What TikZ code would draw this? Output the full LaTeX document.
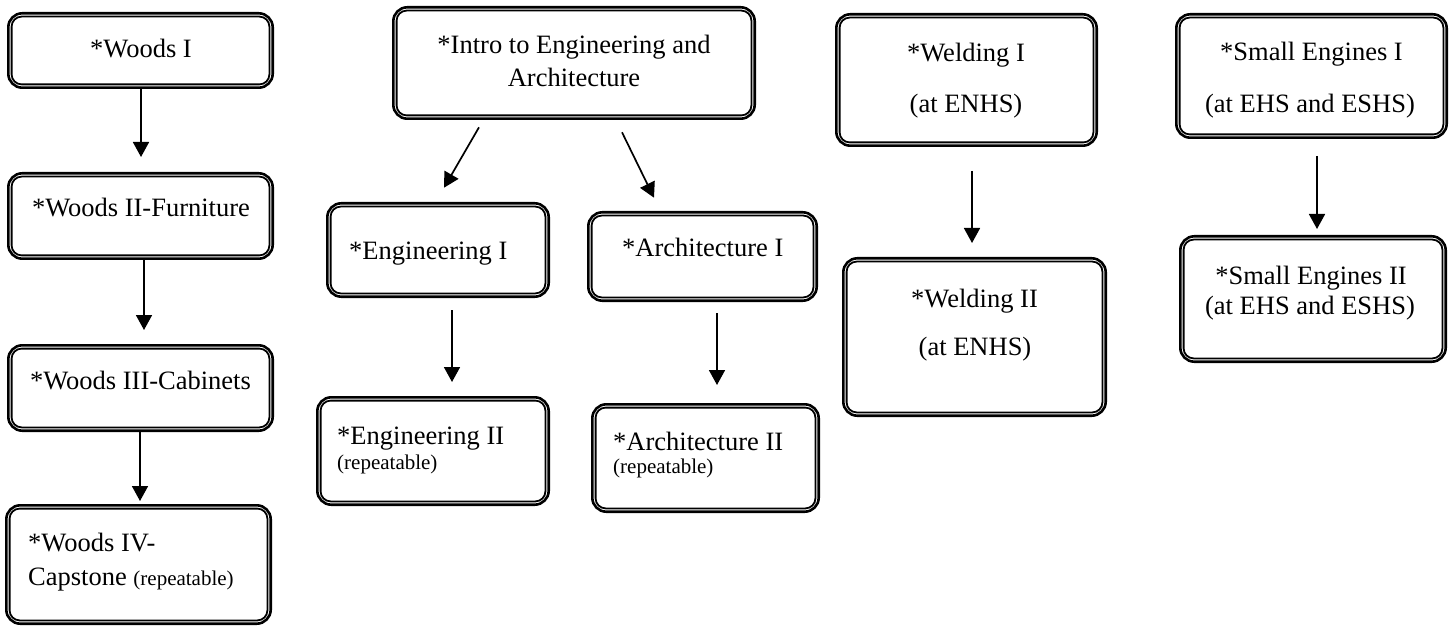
\documentclass[tikz,border=0pt]{standalone}
\usepackage{fontspec}
\setmainfont{Liberation Serif}
\usetikzlibrary{arrows.meta}
\tikzset{
  outerbox/.style={draw, line width=2.6pt, rounded corners=14pt, inner sep=0pt},
  innerline/.style={draw, line width=1.8pt, rounded corners=10pt},
  lbl/.style={inner sep=0pt, anchor=base, font=\fontsize{26.5}{31}\selectfont},
  lblw/.style={lbl, anchor=base west},
  arr/.style={line width=1.7pt, -{Triangle[width=16pt,length=15pt]}},
}
\newcommand{\repfont}{\fontsize{21}{24}\selectfont}
\newcommand{\dbox}[5]{%
  \pgfmathsetmacro{\bw}{#4-#2-2.6}\pgfmathsetmacro{\bh}{#5-#3-2.6}%
  \node[outerbox, minimum width=\bw pt, minimum height=\bh pt] (#1) at ({(#2+#4)/2},{(#3+#5)/2}) {};
  \draw[innerline] ([shift={(4.6,4.6)}]#1.north west) rectangle ([shift={(-4.6,-4.6)}]#1.south east);
}
\begin{document}
\begin{tikzpicture}[x=1pt,y=-1pt]
\fill[white] (0,0) rectangle (1453,628);
\useasboundingbox (0,0) rectangle (1453,628);

% Woods column
\dbox{woodsA}{7}{12}{274}{89}
\dbox{woodsB}{7}{172}{274}{260}
\dbox{woodsC}{7}{344}{274}{432}
\dbox{woodsD}{5}{504}{272}{625}
\node[lbl] (tWA) at (141,58) {*Woods I};
\node[lbl] (tWB) at (141,217) {*Woods II-Furniture};
\node[lbl] (tWC) at (140.5,389) {*Woods III-Cabinets};
\node[lblw] (tWD1) at (28,551) {*Woods IV-};
\node[lblw] (tWD2) at (28,585) {Capstone {\repfont (repeatable)}};

% Engineering / Architecture
\dbox{intro}{392}{6}{756}{120}
\dbox{engA}{326}{202}{550}{298}
\dbox{archA}{587}{211}{818}{302}
\dbox{engB}{316}{396}{550}{506}
\dbox{archB}{591}{403}{820}{513}
\node[lbl] (tI1) at (574,54) {*Intro to Engineering and};
\node[lbl] (tI2) at (574,87) {Architecture};
\node[lblw] (tEA) at (349,260) {*Engineering I};
\node[lblw] (tAA) at (622,257) {*Architecture I};
\node[lblw] (tEB1) at (337,444) {*Engineering II};
\node[lblw, font=\repfont] (tEB2) at (337,469) {(repeatable)};
\node[lblw] (tAB1) at (613,450) {*Architecture II};
\node[lblw, font=\repfont] (tAB2) at (613,473) {(repeatable)};

% Welding
\dbox{weldA}{835}{13}{1098}{147}
\dbox{weldB}{842}{257}{1107}{417}
\node[lbl] (tWe1) at (966,62) {*Welding I};
\node[lbl] (tWe2) at (966,113) {(at ENHS)};
\node[lbl] (tWe3) at (974.5,307) {*Welding II};
\node[lbl] (tWe4) at (975,355) {(at ENHS)};

% Small engines
\dbox{seA}{1175}{13}{1448}{139}
\dbox{seB}{1179}{235}{1447}{363}
\node[lbl] (tS1) at (1311.5,61) {*Small Engines I};
\node[lbl] (tS2) at (1310,113) {(at EHS and ESHS)};
\node[lbl] (tS3) at (1311,284) {*Small Engines II};
\node[lbl] (tS4) at (1310,314) {(at EHS and ESHS)};

% connectors
\coordinate (cWA) at ([xshift=0.5]woodsA.south);
\draw[arr, shorten >=15pt] (cWA) -- (cWA |- woodsB.north);
\coordinate (cWB) at ([xshift=3.5]woodsB.south);
\draw[arr, shorten >=14pt] (cWB) -- (cWB |- woodsC.north);
\coordinate (cWC) at ([xshift=-0.5]woodsC.south);
\draw[arr, shorten >=3pt] (cWC) -- (cWC |- woodsD.north);

\draw[arr] ([shift={(-95,7.3)}]intro.south) -- ([shift={(6,-14.3)}]engA.north);
\draw[arr] ([shift={(48,12.3)}]intro.south) -- ([shift={(-48.5,-13.3)}]archA.north);

\coordinate (cEA) at ([xshift=14]engA.south);
\draw[arr, shorten <=12pt, shorten >=14pt] (cEA) -- (cEA |- engB.north);
\coordinate (cAA) at ([xshift=14.5]archA.south);
\draw[arr, shorten <=11pt, shorten >=18pt] (cAA) -- (cAA |- archB.north);

\coordinate (cWe) at ([xshift=5.5]weldA.south);
\draw[arr, shorten <=24pt, shorten >=14pt] (cWe) -- (cWe |- weldB.north);
\coordinate (cSE) at ([xshift=5.5]seA.south);
\draw[arr, shorten <=17pt, shorten >=6pt] (cSE) -- (cSE |- seB.north);
\end{tikzpicture}
\end{document}
